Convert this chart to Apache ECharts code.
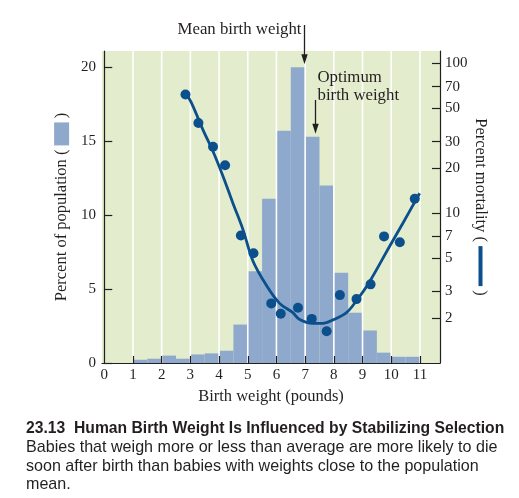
<!DOCTYPE html>
<html>
<head>
<meta charset="utf-8">
<script src="https://cdn.jsdelivr.net/npm/echarts@6/dist/echarts.min.js"></script>
<style>
html,body{margin:0;padding:0;background:#fff;}
#c{width:519px;height:498px;}
</style>
</head>
<body>
<div id="c"></div>
<script>
// ---- data ----
var binStarts = [1,1.5,2,2.5,3,3.5,4,4.5,5,5.5,6,6.5,7,7.5,8,8.5,9,9.5,10,10.5];
var binWidth = 0.5;
var popPercent = [0.22,0.29,0.5,0.29,0.58,0.65,0.83,2.6,6.2,11.1,15.7,20,15.3,12.0,6.1,3.4,2.2,0.7,0.42,0.42];
var mortX = [2.83,3.28,3.79,4.21,4.76,5.20,5.82,6.15,6.75,7.23,7.75,8.21,8.79,9.28,9.75,10.30,10.82];
var mortY = [62,40,27.8,20.9,7.1,5.4,2.5,2.13,2.34,1.97,1.63,2.84,2.67,3.35,7.0,6.4,12.5];
var curveX = [2.84,3.03,3.44,3.79,4.14,4.48,4.83,5.18,5.65,6.11,6.57,6.81,7.27,7.62,7.97,8.44,8.78,9.19,9.94,10.41,10.99];
var curveY = [63,55,36,25.8,17.6,11.7,7.8,4.8,3.3,2.5,2.17,1.95,1.84,1.84,1.94,2.17,2.59,3.35,6.0,8.6,13.6];
var xTickLabels = [0,1,2,3,4,5,6,7,8,9,10,11];
var xTicks = [1,2,3,4,5,6,7,8,9,10,11];
var leftTicks = [0,5,10,15,20];
var rightTicks = [2,3,5,7,10,20,30,50,70,100];
var gridX = [1,2,3,4,5,6,7,8,9,10,11];
var meanWeight = 6.96;
var optimumWeight = 7.36;

var serif = '"Liberation Serif", "Times New Roman", serif';
var sans = '"Liberation Sans", Arial, sans-serif';
var ink = '#231f20';
var barColor = '#8fa9cc';
var blue = '#0b4f8c';

var chart = echarts.init(document.getElementById('c'), null, {renderer:'canvas'});

var option = {
  animation: false,
  textStyle: {fontFamily: serif, color: ink},
  grid: {left: 102, right: 79, top: 51, bottom: 135, show: true, backgroundColor: '#e3edcd', borderWidth: 0},
  xAxis: {
    type: 'value', min: -0.08, max: 11.7, z: 3,
    axisLine: {show: true, lineStyle: {color: ink, width: 1.2}},
    axisTick: {show: true, inside: true, length: 7, customValues: xTicks, lineStyle: {color: ink, width: 1.2}},
    axisLabel: {customValues: xTickLabels, fontFamily: serif, fontSize: 15, color: ink, margin: 5},
    splitLine: {show: false},
    name: 'Birth weight (pounds)', nameLocation: 'middle', nameGap: 24,
    nameTextStyle: {fontFamily: serif, fontSize: 16.5, color: ink}
  },
  yAxis: [{
    type: 'value', min: 0, max: 21.1, z: 3,
    axisLine: {show: true, lineStyle: {color: ink, width: 1.2}},
    axisTick: {show: true, inside: true, length: 8, customValues: leftTicks, lineStyle: {color: ink, width: 1.2}},
    axisLabel: {customValues: leftTicks, fontFamily: serif, fontSize: 15, color: ink, margin: 6},
    splitLine: {show: false},
    name: 'Percent of population ( {sw|} )', nameLocation: 'middle', nameRotate: 90, nameGap: 30,
    nameTextStyle: {fontFamily: serif, fontSize: 16.5, color: ink,
      rich: {sw: {backgroundColor: barColor, width: 23, height: 15, verticalAlign: 'middle'}}}
  }, {
    type: 'log', min: 1, max: 121, position: 'right', z: 3,
    axisLine: {show: true, lineStyle: {color: ink, width: 1.2}},
    axisTick: {show: true, inside: true, length: 8, customValues: rightTicks, lineStyle: {color: ink, width: 1.2}},
    axisLabel: {customValues: rightTicks, fontFamily: serif, fontSize: 15, color: ink, margin: 5},
    splitLine: {show: false},
    name: 'Percent mortality ( {sw|} )', nameLocation: 'middle', nameRotate: -90, nameGap: 32,
    nameMoveOverlap: false,
    nameTextStyle: {fontFamily: serif, fontSize: 16.5, color: ink,
      rich: {sw: {backgroundColor: blue, width: 40, height: 4, verticalAlign: 'middle'}}}
  }],
  series: [{
    type: 'custom', name: 'population', z: 1,
    data: binStarts.map(function (s, i) { return [s, popPercent[i]]; }),
    renderItem: function (params, api) {
      var x0 = api.value(0);
      var p0 = api.coord([x0, api.value(1)]);
      var p1 = api.coord([x0 + binWidth, 0]);
      return {type: 'rect', shape: {x: p0[0], y: p0[1], width: p1[0] - p0[0], height: p1[1] - p0[1]},
        style: {fill: barColor}};
    }
  }, {
    type: 'custom', name: 'gridlines', z: 2, silent: true,
    data: gridX.map(function (g) { return [g]; }),
    renderItem: function (params, api) {
      var top = api.coord([api.value(0), 21.1]);
      var bot = api.coord([api.value(0), 0]);
      return {type: 'line', shape: {x1: top[0], y1: top[1], x2: bot[0], y2: bot[1]},
        style: {stroke: '#ffffff', lineWidth: 1.6}};
    }
  }, {
    type: 'line', name: 'fit', yAxisIndex: 1, z: 4, smooth: 0.35, symbol: 'none',
    data: curveX.map(function (x, i) { return [x, curveY[i]]; }),
    lineStyle: {color: blue, width: 2.8}
  }, {
    type: 'scatter', name: 'mortality', yAxisIndex: 1, z: 5, symbolSize: 10,
    data: mortX.map(function (x, i) { return [x, mortY[i]]; }),
    itemStyle: {color: blue, opacity: 1}
  }]
};
chart.setOption(option);

// annotations positioned through the chart's scales
function px(x, y) { return chart.convertToPixel({xAxisIndex: 0, yAxisIndex: 0}, [x, y]); }
var meanIdx = binStarts.indexOf(6.5);
var optIdx = binStarts.indexOf(7);
var meanTip = px(meanWeight, popPercent[meanIdx]);
var optTip = px(optimumWeight, popPercent[optIdx]);
var mx = Math.round(meanTip[0]) + 0.5, my = meanTip[1] - 3;
var ox = Math.round(optTip[0]) + 0.5, oy = optTip[1] - 3;

function arrow(x, y1, y2) {
  return [
    {type: 'line', shape: {x1: x, y1: y1, x2: x, y2: y2 - 8}, style: {stroke: ink, lineWidth: 1.3}, z: 10},
    {type: 'polygon', shape: {points: [[x - 3.2, y2 - 10], [x + 3.2, y2 - 10], [x, y2]]}, style: {fill: ink}, z: 10}
  ];
}
var graphics = [];
graphics = graphics.concat(arrow(mx, 25, my));
graphics = graphics.concat(arrow(ox, 100, oy));
graphics.push({type: 'text', x: mx - 3, y: 30, z: 10,
  style: {text: 'Mean birth weight', font: '16.8px ' + serif, fill: ink, align: 'right', verticalAlign: 'middle'}});
graphics.push({type: 'text', x: ox + 2, y: 78, z: 10,
  style: {text: 'Optimum', font: '16.8px ' + serif, fill: ink, align: 'left', verticalAlign: 'middle'}});
graphics.push({type: 'text', x: ox + 2, y: 96, z: 10,
  style: {text: 'birth weight', font: '16.8px ' + serif, fill: ink, align: 'left', verticalAlign: 'middle'}});

var captionLines = [
  {t: '23.13  Human Birth Weight Is Influenced by Stabilizing Selection', b: true},
  {t: 'Babies that weigh more or less than average are more likely to die', b: false},
  {t: 'soon after birth than babies with weights close to the population', b: false},
  {t: 'mean.', b: false}
];
var capY = [429, 448, 466.5, 485];
captionLines.forEach(function (l, i) {
  graphics.push({type: 'text', x: 26, y: capY[i], z: 10,
    style: {text: l.t, font: (l.b ? 'bold 15.7px ' : '16.1px ') + sans, fill: '#231f20', align: 'left', verticalAlign: 'middle'}});
});
chart.setOption({graphic: graphics});
</script>
</body>
</html>
